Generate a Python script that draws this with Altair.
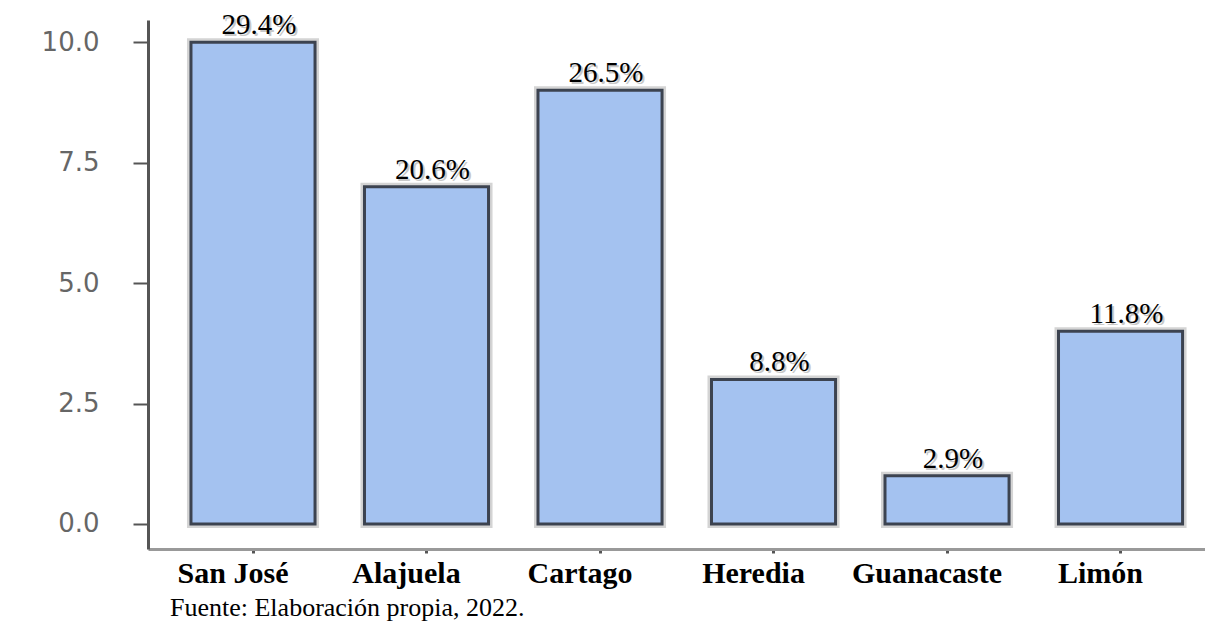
import altair as alt
import pandas as pd

provinces = ["San José", "Alajuela", "Cartago", "Heredia", "Guanacaste", "Limón"]
counts = [10, 7, 9, 3, 1, 4]
pct_labels = ["29.4%", "20.6%", "26.5%", "8.8%", "2.9%", "11.8%"]
y_ticks = [0, 2.5, 5, 7.5, 10]
footer = "Fuente: Elaboración propia, 2022."

df = pd.DataFrame({"provincia": provinces, "n": counts, "pct": pct_labels})

W = 1057
H = 529

x = alt.X(
    "provincia:N",
    sort=provinces,
    scale=alt.Scale(paddingInner=0.285, paddingOuter=0.1885, align=0.657),
    axis=alt.Axis(
        title=None, labelAngle=0, labelFont="Liberation Serif", labelFontSize=30,
        labelFontWeight="bold", labelColor="black", labelOffset=-20, labelPadding=5,
        tickSize=4, tickWidth=3, tickColor="#555", domainColor="#999", domainWidth=3,
    ),
)
y = alt.Y(
    "n:Q",
    scale=alt.Scale(domain=[-0.52, 10.46], nice=False, zero=False),
    axis=alt.Axis(
        title=None, values=y_ticks, format=".1f", grid=False,
        labelFont="DejaVu Sans", labelFontSize=26, labelColor="#666",
        tickSize=15, tickWidth=2, tickColor="#555",
        domainColor="#555", domainWidth=3, labelPadding=34,
    ),
)

base = alt.Chart(df)

shadow = base.mark_bar(fill="#d4d4d4", stroke="#d4d4d4", strokeWidth=8).encode(
    x=x, y=y, y2=alt.datum(0)
)
bars = base.mark_bar(fill="#a4c2f0", stroke="#3c4350", strokeWidth=3).encode(
    x=x, y=y, y2=alt.datum(0)
)
txt_shadow = base.mark_text(
    font="Liberation Serif", fontSize=29, color="#c8c8c8", baseline="alphabetic",
    dy=-6, dx=8
).encode(x=x, y=y, text="pct:N")
txt = base.mark_text(
    font="Liberation Serif", fontSize=29, color="black", baseline="alphabetic",
    dy=-8, dx=6
).encode(x=x, y=y, text="pct:N")

chart = alt.layer(shadow, bars, txt_shadow, txt).properties(
    width=W,
    height=H,
    autosize=alt.AutoSizeParams(type="none"),
    padding={"left": 140, "top": 12, "right": 0, "bottom": 72},
    title=alt.TitleParams(
        footer, orient="bottom", anchor="start", frame="group", font="Liberation Serif",
        fontSize=26, fontWeight="normal", color="black", dx=22, offset=7,
        baseline="top",
    ),
).configure_view(stroke=None)

chart.save("out.html", embed_options={"renderer": "svg", "actions": False})
